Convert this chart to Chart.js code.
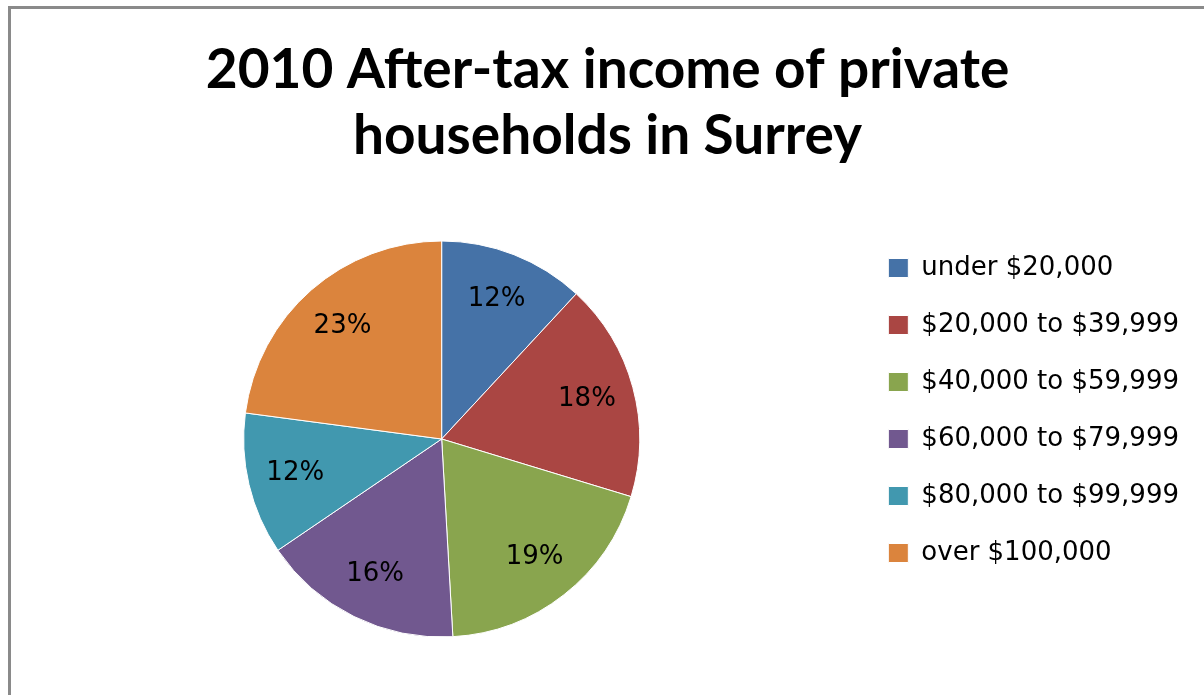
<!DOCTYPE html>
<html>
<head>
<meta charset="utf-8">
<script src="https://cdn.jsdelivr.net/npm/chart.js@4/dist/chart.umd.min.js"></script>
<style>
  html, body { margin: 0; padding: 0; background: #fff; overflow: hidden; }
  #wrap { position: relative; width: 1204px; height: 695px; }
  #frame { position: absolute; left: 8px; top: 6px; width: 1300px; height: 800px;
           border-left: 3px solid #8a8a8a; border-top: 3px solid #8a8a8a; pointer-events: none; }
  canvas { position: absolute; left: 0; top: 0; }
</style>
</head>
<body>
<div id="wrap">
  <canvas id="pieChart" width="1204" height="695"></canvas>
  <div id="frame"></div>
</div>
<script>
const titleLines = ['2010 After-tax income of private', 'households in Surrey'];
const categories = ['under $20,000', '$20,000 to $39,999', '$40,000 to $59,999',
  '$60,000 to $79,999', '$80,000 to $99,999', 'over $100,000'];
const shares = [11.9, 17.8, 19.4, 16.4, 11.6, 22.9];
const sliceColors = ['#4572a7', '#aa4643', '#89a54e', '#71588f', '#4198af', '#db843d'];

// percentage labels inside each slice
const sliceLabels = {
  id: 'sliceLabels',
  afterDatasetsDraw(chart) {
    const ctx = chart.ctx;
    const meta = chart.getDatasetMeta(0);
    const total = shares.reduce((a, b) => a + b, 0);
    ctx.save();
    ctx.font = '26px "DejaVu Sans"';
    ctx.fillStyle = '#000';
    ctx.textAlign = 'center';
    ctx.textBaseline = 'middle';
    meta.data.forEach((arc, i) => {
      const mid = (arc.startAngle + arc.endAngle) / 2;
      const r = arc.outerRadius * 0.76;
      const x = arc.x + Math.cos(mid) * r;
      const y = arc.y + Math.sin(mid) * r;
      ctx.fillText(Math.round(shares[i] / total * 100) + '%', x, y);
    });
    ctx.restore();
  }
};

const pieCtx = document.getElementById('pieChart').getContext('2d');

new Chart(pieCtx, {
  type: 'pie',
  data: {
    labels: categories,
    datasets: [{
      data: shares,
      backgroundColor: sliceColors,
      borderColor: '#ffffff',
      borderWidth: 1,
      radius: 198,
      clip: false
    }]
  },
  options: {
    responsive: false,
    animation: false,
    layout: { padding: { top: 0, left: 26, right: 15, bottom: 41 } },
    plugins: {
      tooltip: { enabled: false },
      title: {
        display: true,
        text: titleLines,
        color: '#000',
        font: { family: 'Lato', size: 55, weight: 'bold', lineHeight: 1.2 },
        padding: { top: 37, bottom: 55 }
      },
      legend: {
        position: 'right',
        align: 'start',
        fullSize: false,
        labels: {
          color: '#000',
          boxWidth: 20,
          boxHeight: 19,
          padding: 31,
          font: { family: 'DejaVu Sans', size: 26 }
        }
      }
    }
  },
  plugins: [sliceLabels]
});
</script>
</body>
</html>
